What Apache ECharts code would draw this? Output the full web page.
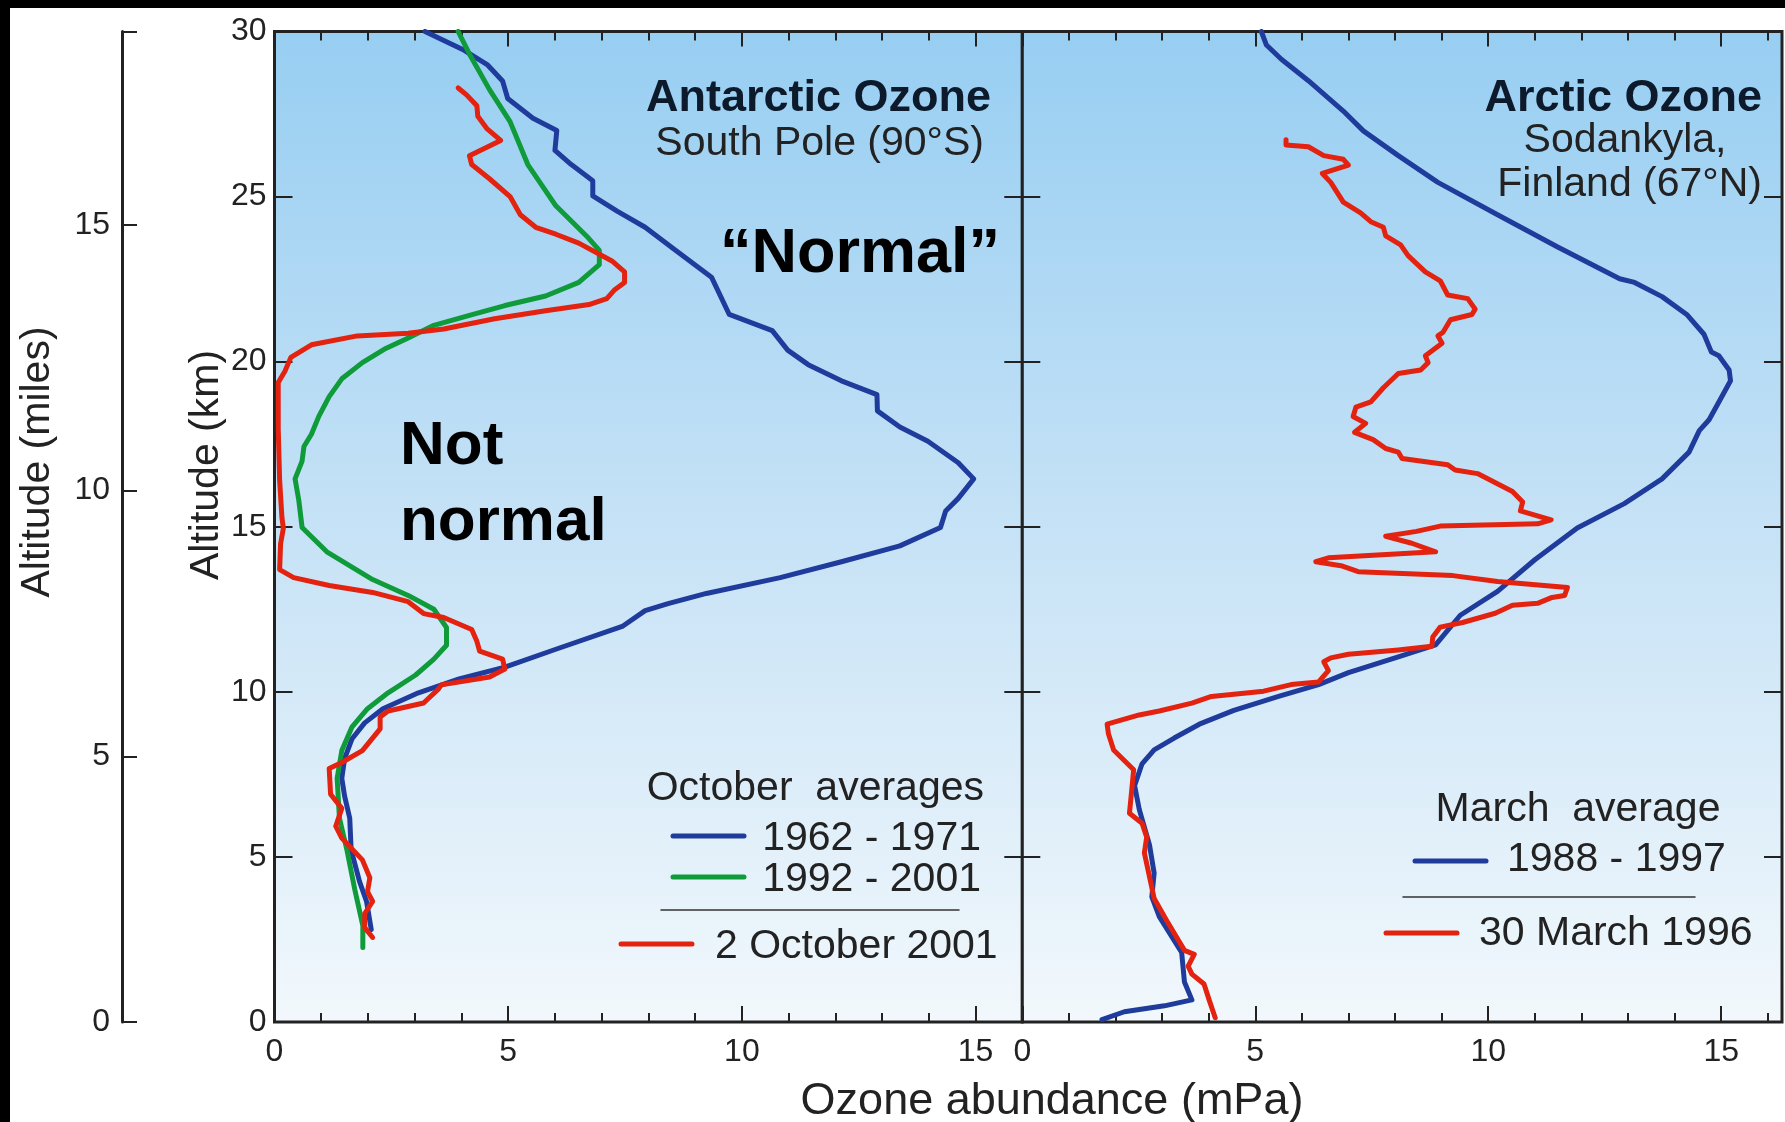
<!DOCTYPE html>
<html>
<head>
<meta charset="utf-8">
<script src="https://cdn.jsdelivr.net/npm/echarts@6/dist/echarts.min.js"></script>
<style>
html,body{margin:0;padding:0;background:#ffffff;}
#chart{width:1785px;height:1122px;}
</style>
</head>
<body>
<div id="chart"></div>
<script>
// ---------- DATA (ozone in mPa, altitude in km) ----------
const antarctic1962Ozone = [3.22,4.06,4.55,4.88,4.99,5.53,6.04,6.0,6.35,6.81,6.81,7.33,7.93,8.53,9.35,9.73,10.65,10.98,11.42,12.13,12.89,12.9,13.38,13.98,14.63,14.96,14.63,14.36,14.25,13.38,12.13,10.82,9.24,8.42,7.93,7.44,6.02,4.93,3.95,3.08,2.32,1.93,1.66,1.5,1.44,1.5,1.61,1.64,1.82,1.97,2.07];
const antarctic1962Alt   = [30.0,29.43,29.0,28.5,27.97,27.37,27.0,26.4,25.97,25.48,25.02,24.56,24.07,23.43,22.56,21.43,20.94,20.35,19.91,19.42,19.0,18.51,18.02,17.59,16.94,16.45,15.86,15.48,14.98,14.42,13.94,13.46,12.98,12.67,12.46,11.98,11.29,10.75,10.39,9.97,9.49,9.06,8.58,7.98,7.38,6.84,6.17,5.21,4.25,3.65,2.8];

const antarctic1992Ozone = [3.93,4.17,4.6,5.04,5.42,6.02,6.68,6.95,6.95,6.51,5.8,4.93,4.17,3.41,2.86,2.38,1.88,1.44,1.17,0.95,0.79,0.63,0.59,0.44,0.52,0.59,1.12,2.1,2.86,3.41,3.68,3.68,3.41,3.02,2.43,1.99,1.66,1.44,1.34,1.39,1.55,1.72,1.89,1.89];
const antarctic1992Alt   = [30.0,29.32,28.24,27.27,25.97,24.72,23.8,23.37,22.94,22.4,21.99,21.7,21.4,21.1,20.72,20.4,19.97,19.48,18.94,18.35,17.8,17.43,16.99,16.45,15.8,14.98,14.24,13.4,12.92,12.5,11.95,11.41,10.99,10.51,9.97,9.49,8.94,8.22,7.38,6.17,5.21,4.0,2.92,2.26];

const antarctic2001Ozone = [3.93,4.11,4.33,4.35,4.55,4.84,4.17,4.22,4.6,5.04,5.26,5.59,6.02,6.51,7.22,7.49,7.49,7.28,7.11,6.73,5.8,4.71,3.62,2.86,1.77,0.79,0.35,0.22,0.08,0.08,0.11,0.16,0.19,0.13,0.11,0.41,1.17,2.1,2.86,3.19,3.62,4.22,4.33,4.39,4.88,4.93,4.6,3.57,3.51,3.19,2.43,2.26,2.26,1.88,1.44,1.17,1.2,1.44,1.31,1.44,1.88,2.04,1.99,2.1,1.93,1.93,2.1];
const antarctic2001Alt   = [28.29,28.08,27.75,27.43,27.05,26.7,26.24,25.97,25.54,25.0,24.45,24.07,23.86,23.59,23.05,22.72,22.4,22.18,21.91,21.73,21.54,21.3,20.99,20.86,20.78,20.51,20.13,19.7,19.37,17.97,16.4,15.26,14.96,14.48,13.7,13.46,13.22,13.01,12.73,12.37,12.25,11.89,11.53,11.23,10.99,10.69,10.45,10.21,10.09,9.66,9.42,9.24,8.88,8.22,7.86,7.68,6.9,6.47,5.93,5.57,4.91,4.37,3.95,3.65,3.28,2.86,2.56];

const arctic1988Ozone = [5.13,5.24,5.56,6.14,6.89,7.32,8.07,8.92,10.2,11.48,12.82,13.14,13.73,14.26,14.63,14.79,14.95,15.17,15.2,14.95,14.74,14.53,14.31,13.73,12.92,11.91,11.0,10.2,9.4,8.87,8.07,7.0,6.36,5.5,4.54,3.8,3.26,2.83,2.57,2.41,2.51,2.73,2.83,2.78,2.94,3.42,3.48,3.64,3.05,2.19,1.71];
const arctic1988Alt   = [30.0,29.59,29.16,28.51,27.59,26.99,26.24,25.43,24.45,23.48,22.51,22.4,21.97,21.43,20.83,20.29,20.18,19.75,19.42,18.78,18.24,17.91,17.26,16.45,15.7,14.96,14.0,13.04,12.32,11.42,11.06,10.58,10.22,9.86,9.44,9.02,8.6,8.24,7.82,7.16,6.44,5.36,4.51,3.79,3.19,2.11,1.21,0.67,0.49,0.31,0.07];

const arctic1996Ozone = [5.66,5.66,6.14,6.47,6.89,7.0,6.44,6.62,6.89,7.26,7.48,7.75,7.8,8.12,8.28,8.65,8.97,9.13,9.56,9.72,9.65,9.19,9.03,8.92,9.01,8.65,8.71,8.55,8.07,7.75,7.48,7.16,7.1,7.37,7.13,7.53,7.8,8.07,8.15,9.13,9.29,9.77,10.52,10.74,10.69,11.35,11.06,8.97,8.46,7.8,8.36,8.87,6.57,6.3,6.84,7.21,9.24,10.2,11.7,11.64,11.37,11.06,10.52,10.15,9.45,8.97,8.81,8.79,8.07,7.0,6.62,6.47,6.57,6.36,5.77,5.18,4.06,3.64,2.94,2.51,1.82,1.85,1.96,2.39,2.35,2.3,2.57,2.67,2.62,2.83,3.1,3.48,3.69,3.56,3.64,3.9,4.01,4.14];
const arctic1996Alt   = [26.72,26.56,26.51,26.24,26.13,25.95,25.7,25.43,24.83,24.51,24.24,24.07,23.81,23.54,23.21,22.72,22.45,22.02,21.91,21.59,21.43,21.27,20.89,20.78,20.56,20.18,19.97,19.75,19.64,19.21,18.78,18.62,18.34,18.13,17.86,17.64,17.37,17.26,17.07,16.88,16.72,16.61,16.07,15.75,15.48,15.21,15.09,15.02,14.86,14.71,14.5,14.24,14.06,13.94,13.82,13.64,13.52,13.34,13.16,12.92,12.86,12.68,12.62,12.38,12.1,11.96,11.66,11.38,11.27,11.14,11.03,10.91,10.64,10.3,10.22,10.02,9.86,9.66,9.42,9.3,9.02,8.72,8.24,7.64,7.04,6.32,6.02,5.6,5.12,3.74,3.07,2.17,2.05,1.69,1.45,1.15,0.67,0.13];

// tick labels
const ozoneTickLabels = [0, 5, 10, 15];
const kmTickLabels = [0, 5, 10, 15, 20, 25, 30];
const mileTickLabels = [0, 5, 10, 15];

// series names / legend texts
const leftLegendTitle = 'October  averages';
const leftSeriesNames = ['1962 - 1971', '1992 - 2001', '2 October 2001'];
const rightLegendTitle = 'March  average';
const rightSeriesNames = ['1988 - 1997', '30 March 1996'];

// ---------- STYLE ----------
const FF = "'Liberation Sans', Arial, Helvetica, sans-serif";
const INK = '#222222';
const BLUE = '#1f3c9c';
const GREEN = '#0f9b3a';
const RED = '#e3220f';
const KM_MAX = 30;
const MILES_MAX = 30 / 1.609344;

const zip = (xs, ys) => xs.map((x, i) => [x, ys[i]]);

const bgGradient = {
  type: 'linear', x: 0, y: 0, x2: 0, y2: 1,
  colorStops: [
    { offset: 0, color: '#97cef2' },
    { offset: 0.5, color: '#c6e2f6' },
    { offset: 1, color: '#f2f8fc' }
  ]
};

function xAxesFor(gridIndex, max) {
  const base = {
    gridIndex, type: 'value', min: 0, max,
    axisLine: { show: false, onZero: false },
    splitLine: { show: false }
  };
  return [
    Object.assign({}, base, {
      position: 'bottom', interval: 5,
      axisTick: { show: true, inside: true, length: 16, lineStyle: { color: INK, width: 2 } },
      axisLabel: {
        show: true, margin: 14, fontSize: 32, color: INK, fontFamily: FF,
        formatter: v => (ozoneTickLabels.indexOf(v) >= 0 ? String(v) : '')
      }
    }),
    Object.assign({}, base, {
      position: 'bottom', interval: 1,
      axisTick: { show: true, inside: true, length: 9, lineStyle: { color: INK, width: 2 } },
      axisLabel: { show: false }
    }),
    Object.assign({}, base, {
      position: 'top', interval: 5,
      axisTick: { show: true, inside: true, length: 15, lineStyle: { color: INK, width: 2 } },
      axisLabel: { show: false }
    }),
    Object.assign({}, base, {
      position: 'top', interval: 1,
      axisTick: { show: true, inside: true, length: 9, lineStyle: { color: INK, width: 2 } },
      axisLabel: { show: false }
    })
  ];
}

function yAxesFor(gridIndex, withLabels) {
  const base = {
    gridIndex, type: 'value', min: 0, max: KM_MAX, interval: 5,
    axisLine: { show: false, onZero: false },
    splitLine: { show: false },
    axisTick: { show: true, inside: true, length: 18, lineStyle: { color: INK, width: 2 } }
  };
  return [
    Object.assign({}, base, {
      position: 'left',
      axisLabel: withLabels ? {
        show: true, margin: 8, fontSize: 32, color: INK, fontFamily: FF,
        formatter: v => (kmTickLabels.indexOf(v) >= 0 ? String(v) : '')
      } : { show: false }
    }),
    Object.assign({}, base, { position: 'right', axisLabel: { show: false } })
  ];
}

const xAxis = [].concat(
  xAxesFor(0, 16),
  xAxesFor(1, 16.305),
  [{ gridIndex: 2, type: 'value', min: 0, max: 1, show: false }]
);
const yAxis = [].concat(
  yAxesFor(0, true),
  yAxesFor(1, false),
  [{
    gridIndex: 2, type: 'value', position: 'left', min: 0, max: MILES_MAX, interval: 5,
    axisLine: { show: true, onZero: false, lineStyle: { color: INK, width: 3 } },
    splitLine: { show: false },
    axisTick: { show: true, inside: true, length: 15, lineStyle: { color: INK, width: 2 } },
    axisLabel: {
      show: true, margin: 12, fontSize: 32, color: INK, fontFamily: FF,
      formatter: v => (mileTickLabels.indexOf(v) >= 0 ? String(v) : '')
    }
  }]
);

function lineSeries(name, xi, yi, data, color) {
  return {
    name, type: 'line', xAxisIndex: xi, yAxisIndex: yi, data,
    showSymbol: false, symbol: 'none', smooth: false, silent: true,
    lineStyle: { color, width: 5, cap: 'round', join: 'round' },
    itemStyle: { color }, z: 3
  };
}

const series = [
  lineSeries(leftSeriesNames[0], 0, 0, zip(antarctic1962Ozone, antarctic1962Alt), BLUE),
  lineSeries(leftSeriesNames[1], 0, 0, zip(antarctic1992Ozone, antarctic1992Alt), GREEN),
  lineSeries(leftSeriesNames[2], 0, 0, zip(antarctic2001Ozone, antarctic2001Alt), RED),
  lineSeries(rightSeriesNames[0], 4, 2, zip(arctic1988Ozone, arctic1988Alt), BLUE),
  lineSeries(rightSeriesNames[1], 4, 2, zip(arctic1996Ozone, arctic1996Alt), RED)
];

function txt(text, x, y, font, align, color, rotation) {
  return {
    type: 'text', x, y, z: 100, rotation: rotation || 0, silent: true,
    style: {
      text, font, fill: color || INK,
      align, textAlign: align, verticalAlign: 'middle', textVerticalAlign: 'middle'
    }
  };
}
function seg(x1, y1, x2, y2, color, w) {
  return {
    type: 'line', z: 100, silent: true,
    shape: { x1, y1, x2, y2 },
    style: { stroke: color, lineWidth: w, lineCap: 'round' }
  };
}
const R41 = "41px " + FF;
const B45 = "bold 45px " + FF;
const B62 = "bold 62px " + FF;
const B63 = "bold 63px " + FF;
const TITLE = '#0c1a2b';

const graphic = [
  // black frame strips of the original picture
  { type: 'rect', z: 100, silent: true, shape: { x: 0, y: 0, width: 1785, height: 8 }, style: { fill: '#000' } },
  { type: 'rect', z: 100, silent: true, shape: { x: 0, y: 0, width: 10, height: 1122 }, style: { fill: '#000' } },
  // panel titles
  txt('Antarctic Ozone', 991, 99, B45, 'right', TITLE),
  txt('South Pole (90°S)', 984, 144, R41, 'right', INK),
  txt('\u201CNormal\u201D', 720, 255, B63, 'left', '#000'),
  txt('Not', 400, 447, B62, 'left', '#000'),
  txt('normal', 400, 523, B62, 'left', '#000'),
  txt('Arctic Ozone', 1762, 99, B45, 'right', TITLE),
  txt('Sodankyla,', 1625, 141, R41, 'center', INK),
  txt('Finland (67°N)', 1762, 185, R41, 'right', INK),
  // left legend
  txt(leftLegendTitle, 984, 789, R41, 'right', INK),
  seg(673, 836, 744, 836, BLUE, 5),
  txt(leftSeriesNames[0], 981, 839, R41, 'right', INK),
  seg(673, 877, 744, 877, GREEN, 5),
  txt(leftSeriesNames[1], 981, 880, R41, 'right', INK),
  seg(661, 910, 959, 910, '#333', 1.5),
  seg(621, 944, 692, 944, RED, 5),
  txt(leftSeriesNames[2], 715, 947, R41, 'left', INK),
  // right legend
  txt(rightLegendTitle, 1578, 810, R41, 'center', INK),
  seg(1415, 861, 1486, 861, BLUE, 5),
  txt(rightSeriesNames[0], 1507, 860, R41, 'left', INK),
  seg(1403, 897, 1695, 897, '#333', 1.5),
  seg(1386, 933, 1457, 933, RED, 5),
  txt(rightSeriesNames[1], 1479, 934, R41, 'left', INK),
  // axis titles
  txt('Ozone abundance (mPa)', 1052, 1102, "45px " + FF, 'center', INK),
  txt('Altitude (km)', 207, 465, R41, 'center', INK, Math.PI / 2),
  txt('Altitude (miles)', 38, 462, R41, 'center', INK, Math.PI / 2)
];

const option = {
  animation: false,
  backgroundColor: '#ffffff',
  grid: [
    { left: 274.5, top: 31.5, width: 747.8, height: 990.5, show: true,
      backgroundColor: bgGradient, borderColor: INK, borderWidth: 3, containLabel: false },
    { left: 1022.3, top: 31.5, width: 764.7, height: 990.5, show: true,
      backgroundColor: bgGradient, borderColor: INK, borderWidth: 3, containLabel: false },
    { left: 122, top: 31.5, width: 20, height: 990.5, show: false, containLabel: false }
  ],
  xAxis, yAxis, series, graphic
};

const chart = echarts.init(document.getElementById('chart'), null, { renderer: 'canvas', width: 1785, height: 1122 });
chart.setOption(option);
</script>
</body>
</html>
